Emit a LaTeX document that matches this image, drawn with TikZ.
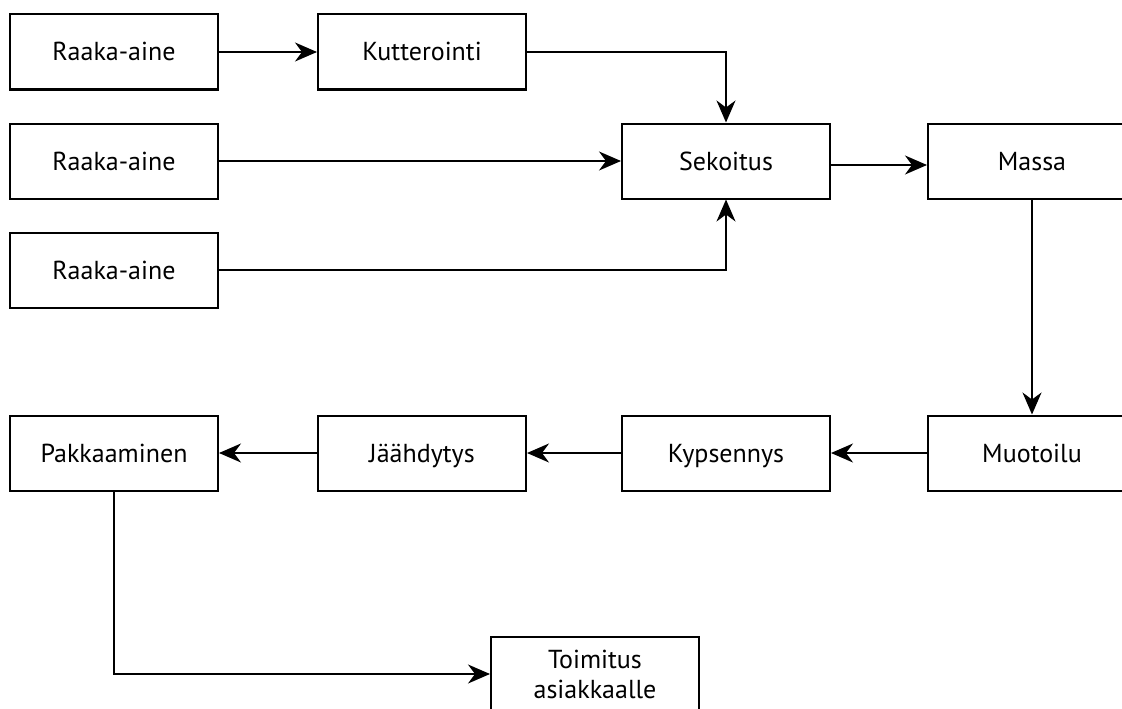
\documentclass[tikz,border=0pt]{standalone}
\usepackage{fontspec}
\setmainfont{PT Sans}
\usepackage{tikz}
\usetikzlibrary{shapes,arrows.meta,positioning}

\begin{document}
\begin{tikzpicture}[x=1pt, y=1pt, node distance=32pt and 96pt, line width=1.5pt,
    base/.style={draw, rectangle, line width=2pt, minimum width=208pt, minimum height=75pt,
        inner sep=0pt, align=center, font=\fontsize{26}{30}\selectfont},
    box/.style={base, text height=20pt, text depth=2pt},
    >={Stealth[length=22pt, width=19pt, inset=7pt]}]
    \useasboundingbox (0,0) rectangle (1122,-709);

    \node[box] (raw1) at (114,-52) {Raaka-aine};
    \node[box, right=98pt of raw1] (kutter) {Kutterointi};
    \node[box, below=of raw1] (raw2) {Raaka-aine};
    \node[box, below=of raw2] (raw3) {Raaka-aine};
    \node[box, below right=32pt and 94pt of kutter] (sekoitus) {Sekoitus};
    \node[box, right=of sekoitus] (massa) {Massa};

    \node[box, below=106pt of raw3] (pakk) {Pakkaaminen};
    \node[box, right=98pt of pakk] (jaahd) {Jäähdytys};
    \node[box, right=94pt of jaahd] (kyps) {Kypsennys};
    \node[box, right=of kyps] (muoto) {Muotoilu};
    \node[base, below right=144pt and 271pt of pakk] (toimitus) {Toimitus\\asiakkaalle};

    \draw[->] (raw1) -- (kutter);
    \draw[->] (kutter) -| (sekoitus);
    \draw[->] (raw2) -- (sekoitus);
    \draw[->] (raw3) -| (sekoitus);
    \draw[->] ([yshift=-4pt]sekoitus.east) -- ([yshift=-4pt]massa.west);
    \draw[->] (massa) -- (muoto);
    \draw[->] (muoto) -- (kyps);
    \draw[->] (kyps) -- (jaahd);
    \draw[->] (jaahd) -- (pakk);
    \draw[->] (pakk) |- (toimitus);
\end{tikzpicture}
\end{document}
